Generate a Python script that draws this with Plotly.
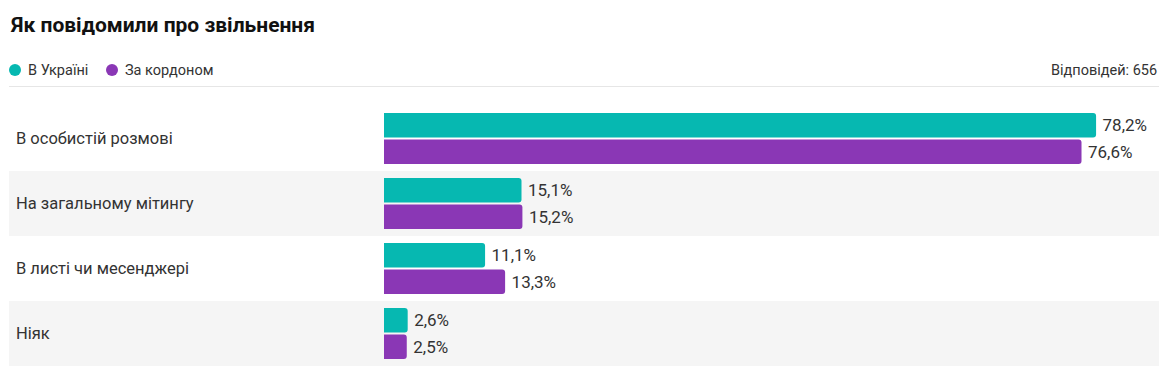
import plotly.graph_objects as go

title = "Як повідомили про звільнення"
categories = ["В особистій розмові", "На загальному мітингу", "В листі чи месенджері", "Ніяк"]
series_names = ["В Україні", "За кордоном"]
ukraine = [78.2, 15.1, 11.1, 2.6]
abroad = [76.6, 15.2, 13.3, 2.5]
responses_label = "Відповідей: 656"

TEAL = "#06b8b1"
PURPLE = "#8a37b5"
TXT = "#333333"
FONT = "Roboto"

# page body has an 8px margin; coordinates below are relative to the figure
OFF = 8
W, H = 1175 - 2 * OFF, 390 - 2 * OFF
L, R, T, B = 384 - OFF, 1158 - OFF, 106 - OFF, 366 - OFF  # plot area in pixels


def px(xp):
    return (xp - OFF - L) / (R - L)


def py(yp):
    return (B - (yp - OFF)) / (B - T)


ypos = list(range(len(categories)))


def fmt(v):
    return "\u2009" + f"{v:.1f}".replace(".", ",") + "%"


fig = go.Figure()
for name, vals, col in [(series_names[0], ukraine, TEAL), (series_names[1], abroad, PURPLE)]:
    fig.add_trace(go.Bar(
        name=name, y=ypos, x=vals, orientation="h",
        marker=dict(color=col, line=dict(width=0)),
        text=[fmt(v) for v in vals], textposition="outside",
        textfont=dict(family=FONT, size=17, color=TXT),
        cliponaxis=False, showlegend=False, hoverinfo="skip",
    ))

shapes = []
# alternating row backgrounds
for i in ypos:
    if i % 2 == 1:
        shapes.append(dict(type="rect", layer="below", xref="paper", yref="y",
                           x0=px(9), x1=px(1159), y0=i - 0.5, y1=i + 0.5,
                           fillcolor="#f5f5f5", line=dict(width=0)))
# header separator line
shapes.append(dict(type="line", xref="paper", yref="paper",
                   x0=px(9), x1=px(1159), y0=py(86.5), y1=py(86.5),
                   line=dict(color="#e6e6e6", width=1)))
# legend dots
for cx, col in [(15, TEAL), (112, PURPLE)]:
    shapes.append(dict(type="circle", xref="paper", yref="paper",
                       x0=px(cx - 6), x1=px(cx + 6), y0=py(70 - 6), y1=py(70 + 6),
                       fillcolor=col, line=dict(width=0)))

annotations = [
    dict(text=f"<b>{title}</b>", xref="paper", yref="paper", x=px(8), y=py(25),
         xanchor="left", yanchor="middle", showarrow=False,
         font=dict(family=FONT, size=21, color="#111111")),
    dict(text=series_names[0], xref="paper", yref="paper", x=px(26), y=py(70),
         xanchor="left", yanchor="middle", showarrow=False,
         font=dict(family=FONT, size=14.5, color=TXT)),
    dict(text=series_names[1], xref="paper", yref="paper", x=px(123), y=py(70),
         xanchor="left", yanchor="middle", showarrow=False,
         font=dict(family=FONT, size=14.5, color=TXT)),
    dict(text=responses_label, xref="paper", yref="paper", x=px(1159), y=py(70),
         xanchor="right", yanchor="middle", showarrow=False,
         font=dict(family=FONT, size=14.5, color=TXT)),
]
for i, c in enumerate(categories):
    annotations.append(dict(text=c, xref="paper", yref="y", x=px(14), y=i,
                            xanchor="left", yanchor="middle", showarrow=False,
                            font=dict(family=FONT, size=16.5, color=TXT)))

fig.update_layout(
    width=W, height=H,
    margin=dict(l=L, r=W - R, t=T, b=H - B, pad=0),
    paper_bgcolor="white", plot_bgcolor="rgba(0,0,0,0)",
    barmode="group", bargap=0.18, bargroupgap=0.08, barcornerradius=3,
    xaxis=dict(range=[0, 85], visible=False, fixedrange=True),
    yaxis=dict(range=[3.5, -0.5], visible=False, fixedrange=True),
    shapes=shapes, annotations=annotations,
    font=dict(family=FONT, color=TXT),
)

fig.write_html("out.html", config={"displayModeBar": False})
